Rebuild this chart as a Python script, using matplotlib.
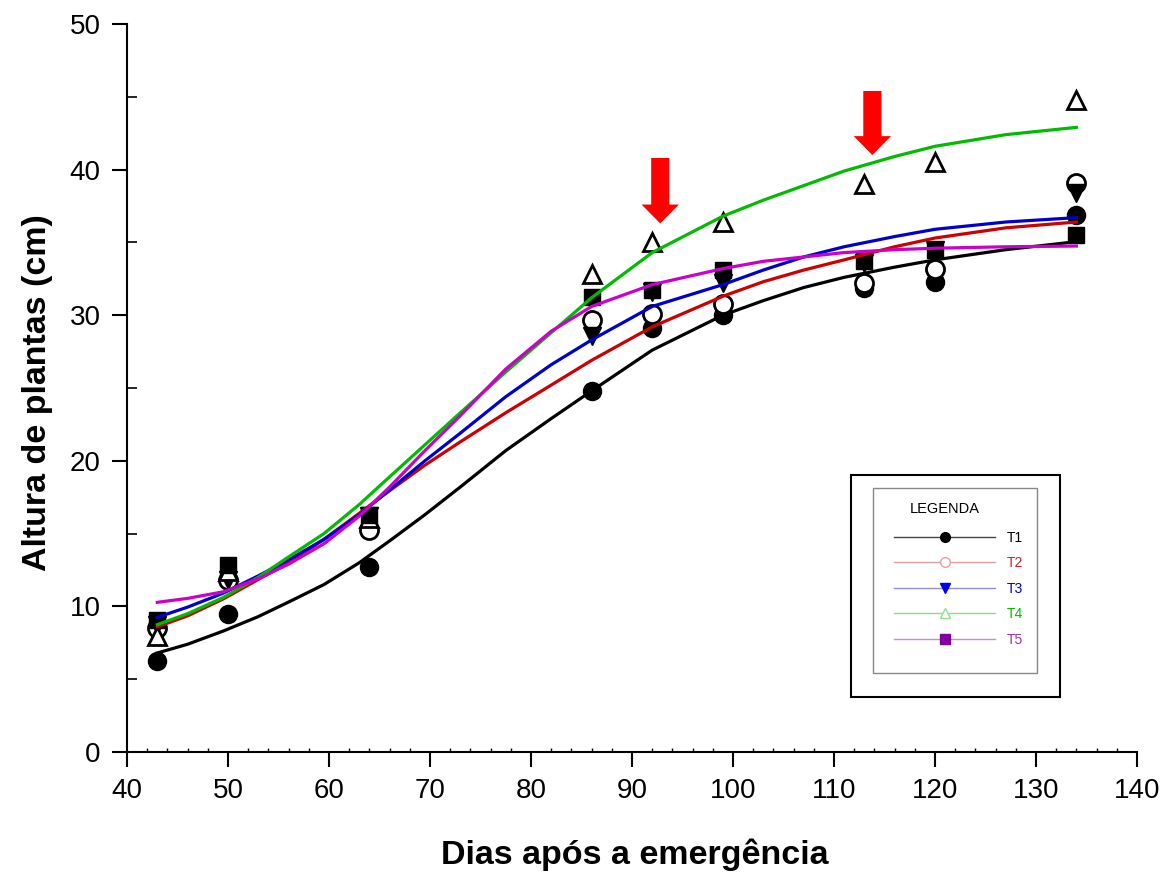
import numpy as np
import matplotlib
matplotlib.use('Agg')
import matplotlib.pyplot as plt
from matplotlib.lines import Line2D
from matplotlib.patches import Rectangle
from matplotlib.ticker import MultipleLocator

plt.rcParams['font.family'] = ['Liberation Sans', 'DejaVu Sans']

# observed heights (cm)
dias = [43, 50, 64, 86, 92, 99, 113, 120, 134]
t1 = [6.25, 9.5, 12.7, 24.8, 29.1, 30.0, 31.9, 32.3, 36.9]
t2 = [8.5, 11.8, 15.25, 29.7, 30.1, 30.8, 32.2, 33.2, 39.1]
t3 = [8.7, 11.8, 16.2, 28.6, 31.6, 32.2, 33.6, 34.5, 38.4]
t4 = [8.0, 12.4, 16.1, 32.8, 35.0, 36.4, 39.0, 40.5, 44.8]
t5 = [9.05, 12.85, 16.3, 31.25, 31.7, 33.1, 33.7, 34.5, 35.5]

# fitted curves
xc = [43, 46, 49.5, 53, 56, 59.5, 63, 66, 69.5, 73, 77.5, 82, 86, 92, 99,
      103, 107, 111, 116, 120, 127, 134]
c1 = [6.8, 7.4, 8.3, 9.3, 10.3, 11.5, 13.0, 14.5, 16.3, 18.2, 20.7, 22.9, 24.8,
      27.6, 30.0, 31.0, 31.9, 32.6, 33.3, 33.8, 34.5, 35.05]
c2 = [8.6, 9.35, 10.5, 11.85, 13.0, 14.6, 16.4, 17.95, 19.7, 21.3, 23.3, 25.2, 26.9,
      29.2, 31.3, 32.3, 33.1, 33.8, 34.7, 35.3, 36.0, 36.4]
c3 = [9.25, 9.95, 10.9, 12.1, 13.2, 14.6, 16.3, 18.0, 20.0, 21.9, 24.4, 26.6, 28.3,
      30.6, 32.1, 33.1, 34.0, 34.7, 35.4, 35.9, 36.4, 36.7]
c4 = [8.75, 9.5, 10.6, 12.0, 13.4, 15.0, 17.0, 18.9, 21.1, 23.3, 26.1, 28.8, 31.2,
      34.3, 36.8, 37.9, 38.9, 39.9, 40.9, 41.6, 42.4, 42.9]
c5 = [10.28, 10.55, 11.0, 11.9, 12.9, 14.3, 16.2, 18.2, 20.7, 23.1, 26.3, 28.9, 30.6,
      32.1, 33.2, 33.7, 34.0, 34.3, 34.5, 34.6, 34.7, 34.75]

curve_colors = ['#000000', '#cc0000', '#0000cc', '#00bb00', '#cc00cc']

fig = plt.figure(figsize=(11.75, 8.72), dpi=100)
ax = fig.add_axes([127/1175, 1-752/872, 1010/1175, 728/872])

ms = 13
ax.plot(dias, t1, 'o', color='black', ms=ms, zorder=3)
ax.plot(dias, t2, 'o', mfc='white', mec='black', mew=2, ms=ms, zorder=3)
ax.plot(dias, t3, 'v', color='black', ms=ms, zorder=3)
ax.plot(dias, t4, '^', mfc='white', mec='black', mew=2, ms=ms, zorder=3)
ax.plot(dias, t5, 's', color='black', ms=ms - 1, zorder=3)

for c, col in zip([c1, c2, c3, c4, c5], curve_colors):
    ax.plot(xc, c, color=col, lw=2.3, zorder=4, solid_joinstyle='round')

# red arrows
for xa, ytop, ytip in [(92.8, 40.8, 36.3), (113.8, 45.4, 41.0)]:
    ax.arrow(xa, ytop, 0, ytip - ytop, width=1.8, head_width=3.7, head_length=1.3,
             length_includes_head=True, color='red', lw=0, zorder=5)

ax.set_xlim(40, 140)
ax.set_ylim(0, 50)
ax.xaxis.set_major_locator(MultipleLocator(10))
ax.xaxis.set_minor_locator(MultipleLocator(2))
ax.yaxis.set_major_locator(MultipleLocator(10))
ax.yaxis.set_minor_locator(MultipleLocator(5))
ax.tick_params(axis='both', which='major', direction='out', length=11, width=1.5,
               labelsize=20, pad=8)
ax.tick_params(axis='x', which='minor', direction='in', length=3, width=1)
ax.tick_params(axis='y', which='minor', direction='in', length=7, width=1.2)
for s in ['top', 'right']:
    ax.spines[s].set_visible(False)
for s in ['left', 'bottom']:
    ax.spines[s].set_linewidth(1.5)

ax.set_xlabel('Dias após a emergência', fontsize=24.5, fontweight='bold')
ax.xaxis.set_label_coords((635-127)/1010, (752-855)/728)
ax.xaxis.label.set_va('center')
ax.set_ylabel('Altura de plantas (cm)', fontsize=24.5, fontweight='bold')
ax.yaxis.set_label_coords((38-127)/1010, (752-393)/728)
ax.yaxis.label.set_va('center')

# legend boxes
def px2ax(x, y):
    return (x - 127) / 1010, (752 - y) / 728

x0, y0 = px2ax(851, 697)
x1, y1 = px2ax(1060, 475)
ax.add_patch(Rectangle((x0, y0), x1 - x0, y1 - y0, transform=ax.transAxes,
                       fill=False, ec='black', lw=1.5, zorder=6))
x0, y0 = px2ax(873, 673)
x1, y1 = px2ax(1037, 488)
ax.add_patch(Rectangle((x0, y0), x1 - x0, y1 - y0, transform=ax.transAxes,
                       fill=False, ec='#888888', lw=1, zorder=6))
tx, ty = px2ax(945, 509)
ax.text(tx, ty, 'LEGENDA', transform=ax.transAxes, fontsize=10.5, ha='center', va='center')

leg_lines = ['#444444', '#e0a0a0', '#9090d0', '#90d890', '#c090d0']
leg_marks = [dict(marker='o', mfc='black', mec='black'),
             dict(marker='o', mfc='white', mec='#e8a0a0'),
             dict(marker='v', mfc='#0000ee', mec='#0000ee'),
             dict(marker='^', mfc='white', mec='#90e090'),
             dict(marker='s', mfc='#8000a0', mec='#8000a0')]
labels = ['T1', 'T2', 'T3', 'T4', 'T5']
label_colors = ['black', '#cc2222', '#0000dd', '#00bb00', '#9933aa']
handles = [Line2D([], [], color=lc, lw=1, ms=7, **mk) for lc, mk in zip(leg_lines, leg_marks)]
ax_lx, ax_ly = px2ax(887, 524)
leg = ax.legend(handles, labels, loc='upper left',
                bbox_to_anchor=(ax_lx, ax_ly), frameon=False, fontsize=10,
                handlelength=7.3, handletextpad=0.8,
                labelspacing=0.82, borderpad=0, labelcolor=label_colors)

fig.savefig('out.png', dpi=100)
